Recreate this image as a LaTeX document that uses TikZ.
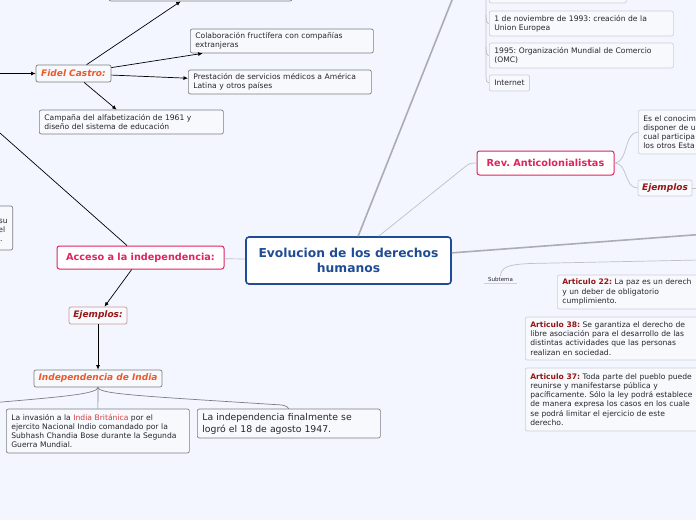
\documentclass[tikz,border=0pt]{standalone}
\usepackage{fontspec}
\setmainfont{DejaVu Sans}
\usetikzlibrary{arrows.meta}
\definecolor{canvasbg}{RGB}{243,246,254}
\definecolor{boxfill}{RGB}{248,249,253}
\definecolor{leafgray}{RGB}{125,125,132}
\definecolor{softgray}{RGB}{204,208,216}
\definecolor{linkgray}{RGB}{172,172,178}
\definecolor{twiggray}{RGB}{192,192,198}
\definecolor{rosered}{RGB}{224,36,94}
\definecolor{deepblue}{RGB}{31,76,148}
\definecolor{flame}{RGB}{238,88,40}
\definecolor{wine}{RGB}{150,22,22}
\definecolor{wineline}{RGB}{198,152,152}
\definecolor{brickred}{RGB}{212,60,60}
\definecolor{inkdark}{RGB}{38,38,42}
\newcommand\artnum[1]{\textcolor{wine}{\textbf{#1}}}
\frenchspacing

\begin{document}
\begin{tikzpicture}[x=1pt,y=-1pt,
    leaf/.style={rectangle,rounded corners=2pt,draw=leafgray,fill=boxfill,line width=0.7pt,
                 anchor=west,align=left,inner xsep=5pt,inner ysep=0pt,text=inkdark,
                 font=\fontsize{7.6}{9.2}\selectfont},
    soft/.style={leaf,draw=softgray},
    topic/.style={rectangle,rounded corners=2pt,draw=leafgray,fill=boxfill,line width=0.7pt,
                  inner sep=0pt,text=flame,font=\fontsize{9}{10}\selectfont\bfseries\itshape},
    sub/.style={topic,draw=wineline,text=wine},
    main/.style={rectangle,rounded corners=2.5pt,draw=rosered,fill=white,line width=1pt,
                 inner sep=0pt,text=rosered,font=\fontsize{9.7}{11}\selectfont\bfseries},
    root/.style={rectangle,rounded corners=3pt,draw=deepblue,fill=white,line width=1.6pt,
                 align=center,inner sep=0pt,text=deepblue,font=\fontsize{12.3}{15}\selectfont\bfseries},
    arr/.style={-{Latex[length=4.5pt,width=4pt]},line width=0.7pt,draw=black},
    bare/.style={line width=0.7pt,draw=black},
    limb/.style={line width=1.6pt,draw=linkgray},
    twig/.style={line width=0.7pt,draw=twiggray},
    hook/.style={line width=0.7pt,draw=leafgray}]
  \useasboundingbox (0,0) rectangle (696,520);
  \clip (0,0) rectangle (696,520);
  \fill[canvasbg] (0,0) rectangle (696,520);

  % central topic
  \node[root,minimum width=205,minimum height=47] (evol) at (348.5,260.5) {Evolucion de los derechos\\humanos};

  % left branch
  \node[main,minimum width=167,minimum height=23] (acceso) at (140.5,257.5) {Acceso a la independencia:};
  \node[sub,minimum width=58,minimum height=17] (ejl) at (98,315.5) {Ejemplos:};
  \node[topic,minimum width=128,minimum height=17] (india) at (98,378.5) {Independencia de India};
  \node[leaf,text width=173,minimum height=44] (invasion) at (6,431) {La invasión a la \textcolor{brickred}{India Británica} por el\\ejercito Nacional Indio comandado por la\\Subhash Chandia Bose durante la Segunda\\Guerra Mundial.};
  \node[leaf,text width=173,minimum height=29,font=\fontsize{9.3}{12}\selectfont] (logro) at (197,423.5) {La independencia finalmente se\\logró el 18 de agosto 1947.};
  \node[leaf,anchor=east,text width=100,align=right,minimum height=44] (lcut) at (13,228) {\mbox{}\\su\\el\kern2.5pt\\.\kern5pt};

  % Fidel Castro
  \node[topic,minimum width=75,minimum height=17] (fidel) at (73.5,73.5) {Fidel Castro:};
  \node[leaf,anchor=center,minimum width=183,minimum height=26] (stubl) at (200.5,-12) {};
  \node[leaf,text width=173,minimum height=24] (colab) at (190,41) {Colaboración fructífera con compañías\\extranjeras};
  \node[leaf,text width=173,minimum height=24] (prest) at (188,82) {Prestación de servicios médicos a América\\Latina y otros países};
  \node[leaf,text width=174,minimum height=24] (campana) at (39,122) {Campaña del alfabetización de 1961 y\\diseño del sistema de educación};

  % right side
  \node[main,minimum width=137,minimum height=24] (rev) at (545.5,163) {Rev. Anticolonialistas};
  \node[soft,text width=100,minimum height=44] (conoc) at (638,132) {Es el conocim\\disponer de u\\cual participa\\los otros Esta};
  \node[sub,draw=softgray,minimum width=54,minimum height=16] (ejr) at (665,188) {Ejemplos};
  \node[soft,minimum width=137,minimum height=26] (stubr) at (489,-10) {};
  \node[soft,text width=174,minimum height=25] (ue) at (489,23.5) {1 de noviembre de 1993: creación de la\\Union Europea};
  \node[soft,text width=174,minimum height=25] (omc) at (489,55.5) {1995: Organización Mundial de Comercio\\(OMC)};
  \node[soft,minimum height=16] (inet) at (489,83) {Internet};

  % articulos
  \node[anchor=south,inner sep=1pt,minimum width=33,text=inkdark,font=\fontsize{5.5}{6}\selectfont] (subt) at (500.5,283) {Subtema};
  \node[soft,text width=200,minimum height=34] (art22) at (557,292) {\artnum{Articulo 22:} La paz es un derech\\y un deber de obligatorio\\cumplimiento.};
  \node[soft,text width=200,minimum height=43] (art38) at (525,338.5) {\artnum{Articulo 38:} Se garantiza el derecho de\\libre asociación para el desarrollo de las\\distintas actividades que las personas\\realizan en sociedad.};
  \node[soft,text width=200,minimum height=63] (art37) at (525,399.5) {\artnum{Articulo 37:} Toda parte del pueblo puede\\reunirse y manifestarse pública y\\pacíficamente. Sólo la ley podrá establece\\de manera expresa los casos en los cuale\\se podrá limitar el ejercicio de este\\derecho.};

  % arrows of the Fidel Castro branch
  \coordinate (westin) at (-20,73.5);
  \draw[arr] (westin) -- (fidel);
  \draw[arr] (fidel) -- (stubl);
  \draw[arr] (fidel) -- (colab);
  \draw[arr] (fidel) -- (prest);
  \draw[arr] (fidel) -- (campana);
  \coordinate (nwin) at (-40,97.6);
  \draw[bare] (nwin) -- (acceso);
  \draw[arr] (acceso) -- (ejl);
  \draw[arr] (ejl) -- (india);

  % India tree
  \coordinate (westlow) at (-10,403);
  \draw[hook] (india.south) -- (invasion.north);
  \draw[hook] (india.south) .. controls (98,394) and (140,396) .. (282,405) .. controls (286,406) and (288.5,407) .. (logro.north);
  \draw[hook] (india.south) .. controls (98,394) and (60,397) .. (westlow);

  % links of the central topic
  \coordinate (northout) at (460,-20);
  \coordinate (eastout) at (720,233);
  \draw[twig] (acceso) -- (evol);
  \draw[limb] (evol) -- (northout);
  \draw[limb] (evol) -- (eastout);
  \draw[twig] (evol) -- (466,166) .. controls (470,163) and (472,163) .. (rev.west);
  \draw[twig] (rev.east) .. controls (628,163) and (624,132) .. (conoc.west);
  \draw[twig] (rev.east) .. controls (628,163) and (624,188) .. (ejr.west);
  \draw[twig] (ejr.east) -- ++(12,0);

  % trunk top right
  \coordinate (trunk) at (486,-12);
  \draw[twig] (trunk) -- (486,76) .. controls (486,81) and (487,83) .. (inet.west);
  \draw[twig] (486,15) .. controls (486,21) and (487,23.5) .. (ue.west);
  \draw[twig] (486,47) .. controls (486,53) and (487,55.5) .. (omc.west);

  % subtema
  \coordinate (eastlow) at (700,260);
  \draw[twig] (subt.north) .. controls (501,267) and (508,264.5) .. (530,263.5) -- (eastlow);
  \draw[softgray,line width=0.6pt] (subt.south west) -- (subt.south east);
\end{tikzpicture}
\end{document}
